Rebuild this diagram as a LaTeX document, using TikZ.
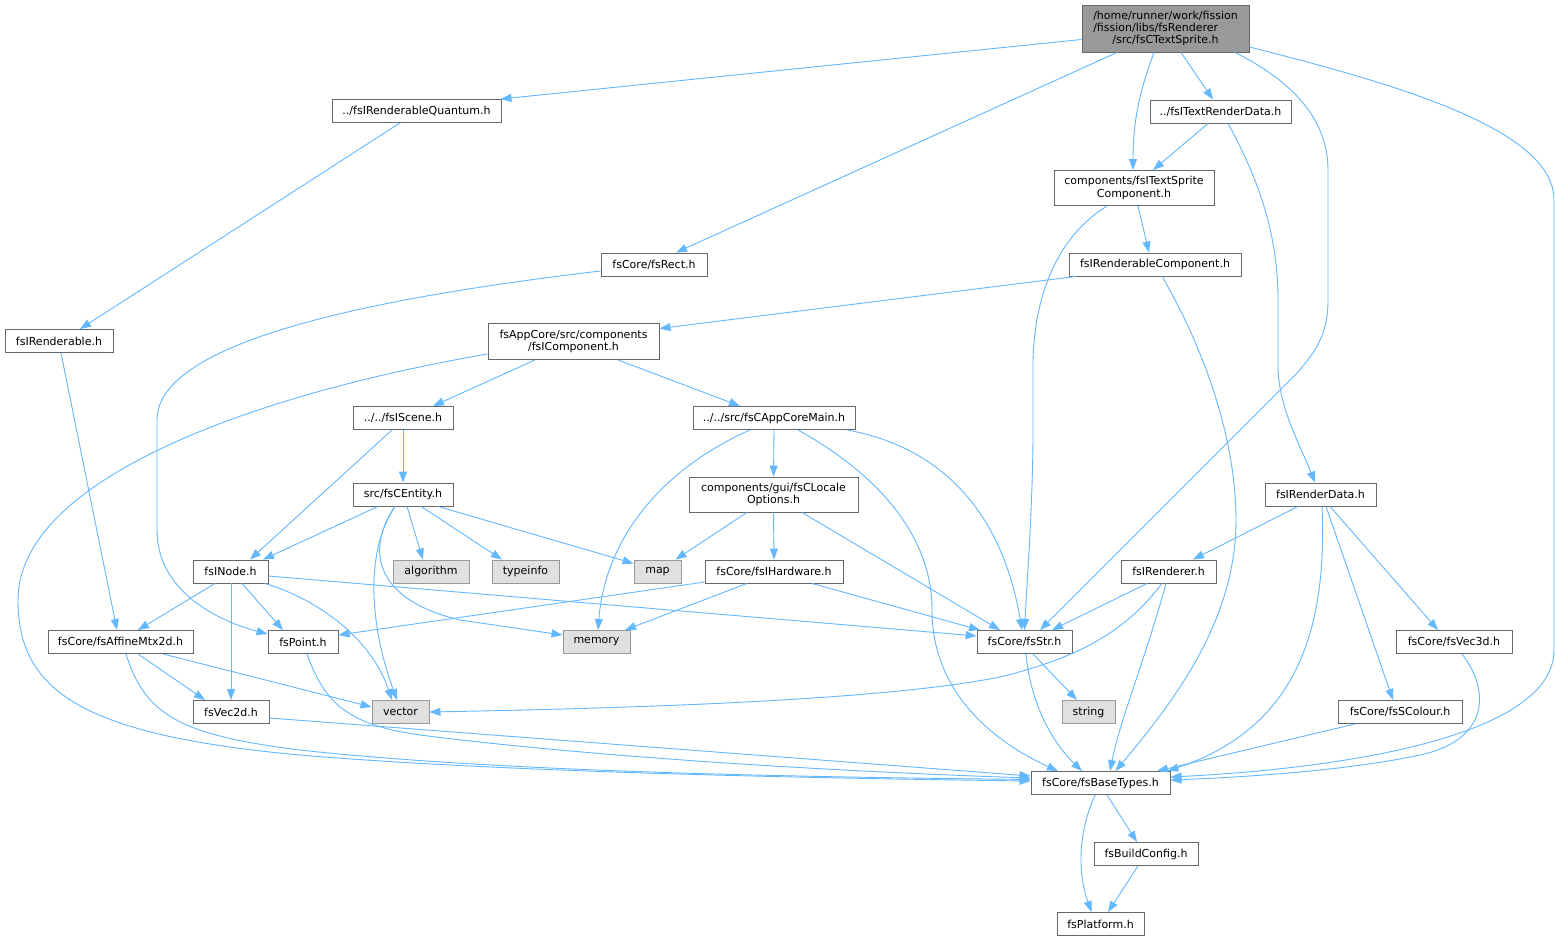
\documentclass[tikz,border=0pt]{standalone}
\usepackage{fontspec}
\setmainfont{DejaVu Sans}
\usetikzlibrary{arrows.meta,calc}
\definecolor{edgec}{HTML}{63B8FF}
\definecolor{bord}{HTML}{666666}
\definecolor{sysbord}{HTML}{999999}
\definecolor{sysfill}{HTML}{E0E0E0}
\definecolor{rootfill}{HTML}{999999}
\begin{document}
\begin{tikzpicture}[x=1pt,y=-1pt,
  hdr/.style={draw=bord, line width=0.9pt, fill=white, inner sep=0pt, minimum height=23pt, align=center, font=\fontsize{11}{12.2}\selectfont},
  sys/.style={hdr, draw=sysbord, fill=sysfill},
  rootn/.style={hdr, fill=rootfill},
  dep/.style={draw=edgec, line width=0.9pt, -{Triangle[length=11pt,width=8pt]}}]
\useasboundingbox[fill=white] (0,0) rectangle (1555,941);

% nodes
\node[rootn, minimum width=167pt, minimum height=47pt] (root) at (1165.5,28.5) {/home/runner/work/fission\\\rlap{/fission/libs/fsRenderer}\phantom{/home/runner/work/fission}\\/src/fsCTextSprite.h};
\node[hdr, minimum width=169pt] (quantum) at (416.5,111) {../fsIRenderableQuantum.h};
\node[hdr, minimum width=141pt] (texrd) at (1220.5,111.5) {../fsITextRenderData.h};
\node[hdr, minimum width=160pt, minimum height=35pt] (tsc) at (1134,188) {components/fsITextSprite\\Component.h};
\node[hdr, minimum width=106pt] (rect) at (654,264.5) {fsCore/fsRect.h};
\node[hdr, minimum width=172pt] (rendcomp) at (1155,264.5) {fsIRenderableComponent.h};
\node[hdr, minimum width=108pt] (renderable) at (59,341) {fsIRenderable.h};
\node[hdr, minimum width=171pt, minimum height=36pt] (comp) at (573.5,341.5) {fsAppCore/src/components\\/fsIComponent.h};
\node[hdr, minimum width=100pt] (scene) at (403,418) {../../fsIScene.h};
\node[hdr, minimum width=162pt] (appmain) at (774,418) {../../src/fsCAppCoreMain.h};
\node[hdr, minimum width=100pt] (entity) at (403,494.5) {src/fsCEntity.h};
\node[hdr, minimum width=169pt, minimum height=35pt] (locale) at (773.5,494.5) {components/gui/fsCLocale\\Options.h};
\node[hdr, minimum width=111pt] (renderdata) at (1320.5,494.5) {fsIRenderData.h};
\node[hdr, minimum width=75pt] (inode) at (230.5,571.5) {fsINode.h};
\node[sys, minimum width=76pt] (algorithm) at (431,571.5) {algorithm};
\node[sys, minimum width=67pt] (typeinfo) at (525.5,571.5) {typeinfo};
\node[sys, minimum width=47pt] (map) at (657.5,571.5) {map};
\node[hdr, minimum width=138pt] (hardware) at (774,571.5) {fsCore/fsIHardware.h};
\node[hdr, minimum width=95pt] (renderer) at (1168.5,571.5) {fsIRenderer.h};
\node[hdr, minimum width=145pt] (affine) at (120.5,642) {fsCore/fsAffineMtx2d.h};
\node[hdr, minimum width=70pt] (point) at (303,642) {fsPoint.h};
\node[sys, minimum width=67pt] (memory) at (596.5,642) {memory};
\node[hdr, minimum width=95pt] (str) at (1024.5,642) {fsCore/fsStr.h};
\node[hdr, minimum width=116pt] (vec3d) at (1454,642) {fsCore/fsVec3d.h};
\node[hdr, minimum width=76pt] (vec2d) at (231,712) {fsVec2d.h};
\node[sys, minimum width=57pt] (vector) at (400.5,712) {vector};
\node[sys, minimum width=53pt] (string) at (1088.5,712) {string};
\node[hdr, minimum width=124pt] (colour) at (1400,712) {fsCore/fsSColour.h};
\node[hdr, minimum width=139pt] (basetypes) at (1100.5,783) {fsCore/fsBaseTypes.h};
\node[hdr, minimum width=104pt] (buildconfig) at (1146,854) {fsBuildConfig.h};
\node[hdr, minimum width=87pt] (platform) at (1100.5,924) {fsPlatform.h};

% edges
\draw[dep] ([yshift=-11pt]root.west) -- ([xshift=-1pt]quantum.north east);
\draw[dep] ([xshift=-48.5pt]root.south) -- ([xshift=22pt]rect.north);
\draw[dep] ([xshift=-11.5pt]root.south) .. controls (1140,90) and (1133,120) .. ([xshift=-1pt]tsc.north);
\draw[dep] ([xshift=15.5pt]root.south) -- ([xshift=-7.5pt]texrd.north);
\draw[dep] ([xshift=69.5pt]root.south) .. controls (1300,85) and (1328,125) .. (1328,170) -- (1328,300) .. controls (1328,335) and (1315,352) .. (1298,372) -- ([xshift=15.5pt]str.north);
\draw[dep] ([yshift=-18.5pt]root.east) .. controls (1400,85) and (1554,130) .. (1554,200) -- (1554,650) .. controls (1554,735) and (1350,768) .. ([yshift=6pt]basetypes.east);
\draw[dep] ([xshift=-16.5pt]quantum.south) -- ([xshift=21pt]renderable.north);
\draw[dep] ([xshift=2pt]renderable.south) -- ([xshift=-3.5pt]affine.north);
\draw[dep] ([xshift=-12.5pt]texrd.south) -- ([xshift=19pt]tsc.north);
\draw[dep] ([xshift=7.5pt]texrd.south) .. controls (1262,185) and (1278,240) .. (1278,300) -- (1278,370) .. controls (1280,410) and (1300,445) .. ([xshift=-5.5pt]renderdata.north);
\draw[dep] ([xshift=-27pt]tsc.south) .. controls (1060,235) and (1035,290) .. (1033,360) -- (1033,440) .. controls (1032,520) and (1027,580) .. (str.north);
\draw[dep] ([xshift=4pt]tsc.south) -- ([xshift=-6pt]rendcomp.north);
\draw[dep] ([yshift=-6.5pt]rect.west) .. controls (380,297) and (157,340) .. (157,420) -- (157,530) .. controls (157,590) and (215,620) .. ([yshift=8pt]point.west);
\draw[dep] ([xshift=-79pt]rendcomp.south) -- ([yshift=13pt]comp.east);
\draw[dep] ([xshift=7pt]rendcomp.south) .. controls (1205,350) and (1236,440) .. (1236,520) .. controls (1236,620) and (1175,700) .. ([xshift=15pt]basetypes.north);
\draw[dep] ([yshift=-12.5pt]comp.west) .. controls (250,395) and (18,480) .. (18,600) .. controls (18,690) and (80,735) .. (300,755) .. controls (500,772) and (800,778) .. ([yshift=2pt]basetypes.west);
\draw[dep] ([xshift=-38.5pt]comp.south) -- ([xshift=30pt]scene.north);
\draw[dep] ([xshift=44.5pt]comp.south) -- ([xshift=-34pt]appmain.north);
\draw[dep] ([xshift=-11pt]scene.south) -- ([xshift=19.5pt]inode.north);
\draw[dep] (scene.south) -- (entity.north);
\draw[dep] ([xshift=-25pt]entity.south) -- ([xshift=32.5pt]inode.north);
\draw[dep] ([xshift=4pt]entity.south) -- ([xshift=-8pt]algorithm.north);
\draw[dep] ([xshift=18pt]entity.south) -- ([xshift=-23.5pt]typeinfo.north);
\draw[dep] ([xshift=35pt]entity.south) -- ([yshift=8pt]map.west);
\draw[dep] ([xshift=-8pt]entity.south) .. controls (365,550) and (375,600) .. (460,620) -- ([yshift=7pt]memory.west);
\draw[dep] ([xshift=-8pt]entity.south) .. controls (360,560) and (375,640) .. ([xshift=-3.5pt]vector.north);
\draw[dep] ([xshift=-15.5pt]inode.south) -- ([xshift=17.5pt]affine.north);
\draw[dep] ([xshift=0.5pt]inode.south) -- (vec2d.north);
\draw[dep] ([xshift=11.5pt]inode.south) -- ([xshift=-20pt]point.north);
\draw[dep] ([xshift=34.5pt]inode.south) .. controls (320,600) and (372,640) .. ([xshift=-8.5pt]vector.north);
\draw[dep] ([yshift=-4.5pt]inode.east) -- ([yshift=6pt]str.west);
\draw[dep] ([xshift=17.5pt]affine.south) -- ([xshift=-26pt]vec2d.north);
\draw[dep] ([xshift=42.5pt]affine.south) -- ([yshift=5pt]vector.west);
\draw[dep] ([xshift=5.5pt]affine.south) .. controls (145,715) and (180,735) .. (300,750) .. controls (500,772) and (800,777) .. ([yshift=3.5pt]basetypes.west);
\draw[dep] ([xshift=4pt]point.south) .. controls (325,705) and (350,725) .. (420,735) .. controls (600,758) and (850,772) .. ([yshift=5pt]basetypes.west);
\draw[dep] ([yshift=-6pt]vec2d.east) -- ([yshift=7pt]basetypes.west);
\draw[dep] ([xshift=-24pt]appmain.south) .. controls (660,470) and (605,540) .. ([xshift=1.5pt]memory.north);
\draw[dep] (appmain.south) -- (locale.north);
\draw[dep] ([xshift=24pt]appmain.south) .. controls (870,470) and (932,530) .. (932,610) .. controls (932,690) and (990,740) .. ([xshift=-42.5pt]basetypes.north);
\draw[dep] ([xshift=73pt]appmain.south) .. controls (930,445) and (1000,500) .. ([xshift=-2.5pt]str.north);
\draw[dep] ([xshift=-26.5pt]locale.south) -- ([xshift=18pt]map.north);
\draw[dep] (locale.south) -- (hardware.north);
\draw[dep] ([xshift=28.5pt]locale.south) -- ([xshift=-24.5pt]str.north);
\draw[dep] ([yshift=-10.5pt]hardware.west) -- ([yshift=7pt]point.east);
\draw[dep] ([xshift=-27pt]hardware.south) -- ([xshift=28.5pt]memory.north);
\draw[dep] ([xshift=38pt]hardware.south) -- ([xshift=-44.5pt]str.north);
\draw[dep] ([xshift=-22.5pt]renderdata.south) -- ([xshift=24.5pt]renderer.north);
\draw[dep] ([xshift=1.5pt]renderdata.south) .. controls (1328,640) and (1290,730) .. ([xshift=-3pt]basetypes.north east);
\draw[dep] ([xshift=5.5pt]renderdata.south) -- ([xshift=-7pt]colour.north);
\draw[dep] ([xshift=9.5pt]renderdata.south) -- ([xshift=-16pt]vec3d.north);
\draw[dep] ([xshift=-21.5pt]renderer.south) -- ([xshift=27.5pt]str.north);
\draw[dep] ([xshift=-6.5pt]renderer.south) .. controls (1130,625) and (1090,655) .. (1000,677) .. controls (900,697) and (700,707) .. (vector.east);
\draw[dep] ([xshift=-2.5pt]renderer.south) .. controls (1145,660) and (1120,720) .. ([xshift=9.5pt]basetypes.north);
\draw[dep] ([xshift=8.5pt]str.south) -- ([xshift=-11.5pt]string.north);
\draw[dep] ([xshift=1.5pt]str.south) .. controls (1030,700) and (1050,740) .. ([xshift=-18.5pt]basetypes.north);
\draw[dep] ([xshift=-45pt]colour.south) -- ([xshift=56.5pt]basetypes.north);
\draw[dep] ([xshift=8pt]vec3d.south) .. controls (1490,690) and (1490,740) .. (1420,755) .. controls (1350,770) and (1250,777) .. ([yshift=3pt]basetypes.east);
\draw[dep] ([xshift=6.5pt]basetypes.south) -- ([xshift=-9pt]buildconfig.north);
\draw[dep] ([xshift=-5.5pt]basetypes.south) .. controls (1075,840) and (1080,880) .. ([xshift=-9pt]platform.north);
\draw[dep] ([xshift=-8pt]buildconfig.south) -- ([xshift=7.5pt]platform.north);
\end{tikzpicture}
\end{document}
